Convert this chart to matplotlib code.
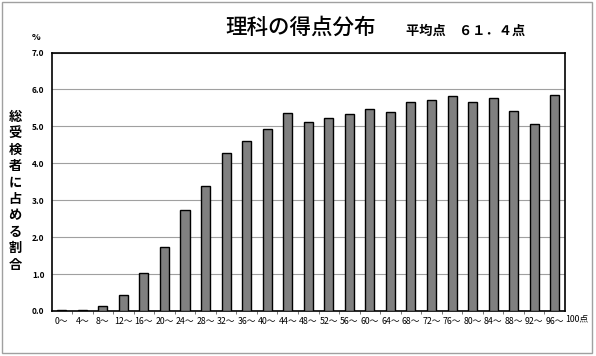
import matplotlib
matplotlib.use("Agg")
import matplotlib.pyplot as plt
from matplotlib.patches import Rectangle

plt.rcParams['font.family'] = ['Noto Sans CJK JP', 'DejaVu Sans']

categories = ["0～", "4～", "8～", "12～", "16～", "20～", "24～", "28～", "32～",
              "36～", "40～", "44～", "48～", "52～", "56～", "60～", "64～", "68～",
              "72～", "76～", "80～", "84～", "88～", "92～", "96～"]
values = [0.03, 0.03, 0.14, 0.43, 1.02, 1.72, 2.74, 3.39, 4.28, 4.61, 4.92, 5.36,
          5.12, 5.22, 5.33, 5.47, 5.38, 5.67, 5.71, 5.81, 5.65, 5.77, 5.41, 5.07, 5.84]
yticks = [0, 1, 2, 3, 4, 5, 6, 7]
title = "理科の得点分布"
subtitle = "平均点　６１．４点"
ylabel = "総受検者に占める割合"

W, H = 596, 356
fig = plt.figure(figsize=(W / 100, H / 100), dpi=100)
ax = fig.add_axes([51.5 / W, 1 - 311 / H, (565 - 51.5) / W, (311 - 52.5) / H])

x = list(range(len(categories)))
ax.bar(x, values, width=0.44, color="#808080", edgecolor="black", linewidth=1.0, zorder=3)

ax.set_xlim(-0.5, len(categories) - 0.5)
ax.set_ylim(0, 7)
ax.set_yticks(yticks)
ax.set_yticklabels([f"{v:.1f}" for v in yticks], fontsize=6, fontweight="bold")
ax.yaxis.grid(True, color="#a0a0a0", linewidth=0.8, zorder=0)
ax.set_xticks(x)
ax.set_xticklabels(categories, fontsize=6.3)
ax.tick_params(axis="x", length=0, pad=4)
ax.tick_params(axis="y", length=0, pad=5)
ax.set_xticks([i + 0.5 for i in x[:-1]], minor=True)
ax.tick_params(axis="x", which="minor", length=2, width=0.6, color="#606060")
for s in ax.spines.values():
    s.set_linewidth(1.2)
    s.set_color("black")

ax.text(len(categories) - 0.47, -0.1, "100点", fontsize=6.3, ha="left", va="top",
        transform=ax.transData, clip_on=False)

fig.text(301 / W, 1 - 28 / H, title, fontsize=15.5, fontweight="medium", ha="center", va="center")
fig.text(466 / W, 1 - 31 / H, subtitle, fontsize=9.5, fontweight="bold", ha="center", va="center")
fig.text(36 / W, 1 - 37 / H, "%", fontsize=6.5, fontweight="bold", ha="center", va="center")

y0 = 117
for i, ch in enumerate(ylabel):
    fig.text(15 / W, 1 - (y0 + i * 16.4) / H, ch, fontsize=9.5, fontweight="bold",
             ha="center", va="center")

fig.patches.append(Rectangle((2 / W, 1 - 353 / H), 590 / W, 351 / H, transform=fig.transFigure,
                             fill=False, edgecolor="#a0a0a0", linewidth=1.0))

fig.savefig("out.png", dpi=100)
